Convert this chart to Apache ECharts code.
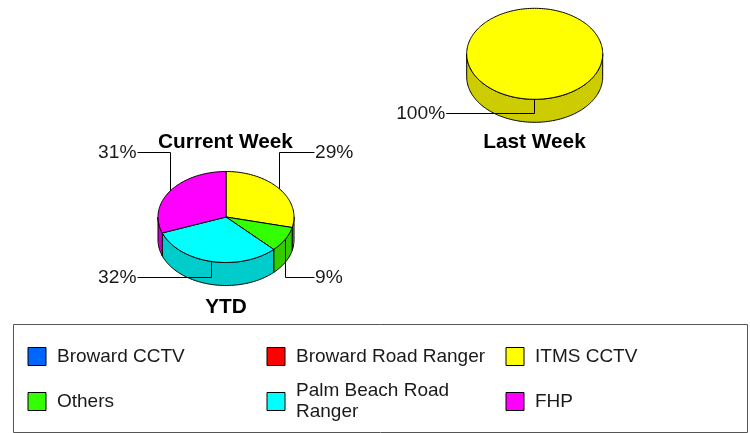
<!DOCTYPE html>
<html>
<head>
<meta charset="utf-8">
<style>html,body{margin:0;padding:0;background:#fff}#c{width:750px;height:433px}</style>
<script src="https://cdn.jsdelivr.net/npm/echarts@6/dist/echarts.min.js"></script>
</head>
<body>
<div id="c"></div>
<script>
// ---- data ----
var pies = ['Current Week', 'Last Week', 'YTD'];
var categories = ['Broward CCTV', 'Broward Road Ranger', 'ITMS CCTV', 'Others', 'Palm Beach Road Ranger', 'FHP'];
var browardCctv = [0, 0, 0];
var browardRoadRanger = [0, 0, 0];
var itmsCctv = [0, 100, 29];
var others = [0, 0, 9];
var palmBeachRoadRanger = [0, 0, 32];
var fhp = [0, 0, 31];
var seriesValues = [browardCctv, browardRoadRanger, itmsCctv, others, palmBeachRoadRanger, fhp];

// ---- style and layout ----
var topColors = ['#0066FF', '#FF0000', '#FFFF00', '#33FF00', '#00FFFF', '#FF00FF'];
var sideColors = ['#0052CC', '#CC0000', '#CCCC00', '#33CC00', '#00CCCC', '#CC00CC'];
var pieLayout = [
  { cx: 226, cy: 217, titleX: 225.5, titleY: 142.5, draw: false },
  { cx: 534.7, cy: 53.8, titleX: 534.5, titleY: 142.5, draw: true },
  { cx: 226, cy: 217, titleX: 226, titleY: 307.5, draw: true }
];
var RX = 68, RY = 45.5, DEPTH = 23, UP = 64.7, DOWN = 60, ARM = 88.5;
var legendCols = [27.5, 266.5, 505.5];
var legendRows = [355.5, 400.5];
var legendWrap = { 'Palm Beach Road Ranger': 'Palm Beach Road\nRanger' };
var FONT = '"Liberation Sans", Arial, sans-serif';

function pt(c, a, dy) {
  var r = a * Math.PI / 180;
  return [c.cx + RX * Math.sin(r), c.cy - RY * Math.cos(r) + (dy || 0)];
}
function arc(c, a0, a1, dy) {
  var pts = [], n = Math.max(2, Math.ceil(Math.abs(a1 - a0) / 1.5));
  for (var i = 0; i <= n; i++) pts.push(pt(c, a0 + (a1 - a0) * i / n, dy));
  return pts;
}
function total(p) {
  return seriesValues.reduce(function (s, v) { return s + v[p]; }, 0);
}
function before(k, p) {
  var s = 0;
  for (var i = 0; i < k; i++) s += seriesValues[i][p];
  return s;
}

function makeRender(k) {
  return function (params, api) {
    var p = params.dataIndex, c = pieLayout[p], v = api.value(0);
    if (!c.draw || !v) return { type: 'group', children: [] };
    var t = total(p);
    var a0 = before(k, p) / t * 360, a1 = a0 + v / t * 360;
    var kids = [];
    var line = { stroke: '#000', lineWidth: 1, lineJoin: 'round' };

    // visible side wall: front half of the rim only
    var s0 = Math.max(a0, 90), s1 = Math.min(a1, 270);
    if (s1 > s0) {
      kids.push({
        type: 'polygon', z2: 1,
        shape: { points: arc(c, s0, s1, 0).concat(arc(c, s1, s0, DEPTH)) },
        style: Object.assign({ fill: sideColors[k] }, line)
      });
    }
    // top face
    var full = v >= t;
    var face = arc(c, a0, a1, 0);
    if (!full) face.push([c.cx, c.cy]);
    kids.push({
      type: 'polygon', z2: 2, shape: { points: face },
      style: Object.assign({ fill: topColors[k] }, line)
    });
    // leader line and value label
    var mid = (a0 + a1) / 2, m = pt(c, mid, 0);
    var below = mid > 90 && mid < 270, right = mid < 180;
    var ly = Math.floor(c.cy + (below ? DOWN : -UP)) + 0.5;
    var ex = c.cx + (right ? ARM : -ARM);
    var mx = Math.round(m[0] - 0.5) + 0.5;
    kids.push({
      type: 'polyline', z2: 3,
      shape: { points: [[mx, m[1]], [mx, ly], [ex, ly]] },
      style: { stroke: '#000', lineWidth: 1, fill: null }
    });
    kids.push({
      type: 'text', z2: 4, x: ex + (right ? 0.5 : -1), y: ly + 0.5,
      style: {
        text: v + '%', fill: '#1a1a1a', font: '19.2px ' + FONT,
        textAlign: right ? 'left' : 'right', textVerticalAlign: 'middle'
      }
    });
    return { type: 'group', children: kids };
  };
}

var option = {
  animation: false,
  backgroundColor: '#fff',
  title: pies.map(function (name, i) {
    return {
      text: name, left: pieLayout[i].titleX, top: pieLayout[i].titleY,
      textAlign: 'center', textVerticalAlign: 'middle', padding: 0,
      textStyle: { fontFamily: FONT, fontSize: 20.8, fontWeight: 'bold', color: '#000' }
    };
  }),
  legend: categories.map(function (name, i) {
    var col = i % 3, row = Math.floor(i / 3), multi = !!legendWrap[name];
    return {
      data: [{ name: name, icon: 'rect', itemStyle: { color: topColors[i], borderColor: '#000', borderWidth: 1 } }],
      left: legendCols[col],
      top: legendRows[row] - (multi ? 20 : 9.5),
      padding: 0,
      itemWidth: 18, itemHeight: 18,
      selectedMode: false,
      formatter: function (n) { return legendWrap[n] || n; },
      textStyle: { fontFamily: FONT, fontSize: 19, lineHeight: 21, color: '#1a1a1a', padding: [0, 0, 0, 6] }
    };
  }),
  graphic: [{
    type: 'rect', silent: true,
    shape: { x: 13.5, y: 324.5, width: 734, height: 108 },
    style: { fill: null, stroke: '#555', lineWidth: 1 }
  }],
  series: categories.map(function (name, k) {
    return {
      type: 'custom', name: name, coordinateSystem: 'none',
      itemStyle: { color: topColors[k] },
      data: seriesValues[k], silent: true,
      renderItem: makeRender(k)
    };
  })
};
echarts.init(document.getElementById('c'), null, { renderer: 'canvas' }).setOption(option);
</script>
</body>
</html>
